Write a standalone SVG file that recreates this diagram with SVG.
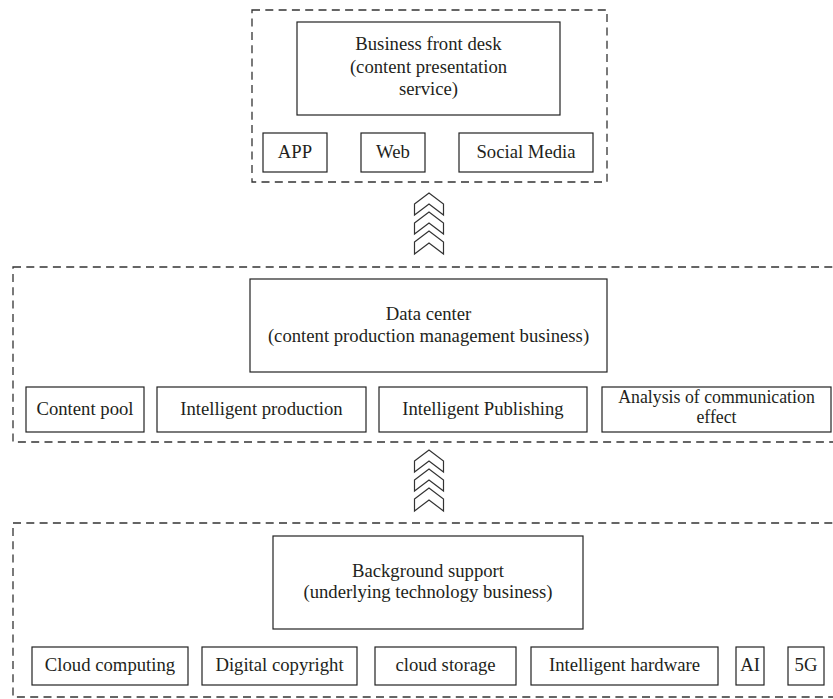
<svg xmlns="http://www.w3.org/2000/svg" width="833" height="699" viewBox="0 0 833 699">
<style>
.dash{fill:none;stroke:#333;stroke-width:1.3;stroke-dasharray:8 5.3}
.box{fill:#fff;stroke:#222;stroke-width:1.2}
.t{font-family:"Liberation Serif","Times New Roman",serif;font-size:18.7px;fill:#231f20;text-anchor:middle}
.s{font-size:17.8px}
.chev{fill:none;stroke:#333;stroke-width:1.2;stroke-linejoin:miter}
</style>
<rect width="833" height="699" fill="#fff"/>
<g id="layer-front">
<rect class="dash" x="252" y="10" width="355" height="172"/>
</g>
<g id="layer-data">
<rect class="dash" x="13" y="267" width="830" height="175"/>
</g>
<g id="layer-background">
<rect class="dash" x="13" y="523" width="830" height="174"/>
</g>
<g id="front-desk">
<rect class="box" x="297" y="22" width="263" height="93"/>
<text class="t" x="428.5" y="50">Business front desk</text>
<text class="t" x="428.5" y="73">(content presentation</text>
<text class="t" x="428.5" y="95">service)</text>
</g>
<g id="app"><rect class="box" x="263" y="133" width="64" height="39"/><text class="t" x="295" y="158">APP</text></g>
<g id="web"><rect class="box" x="361" y="133" width="64" height="39"/><text class="t" x="393" y="158">Web</text></g>
<g id="social"><rect class="box" x="459" y="133" width="134" height="39"/><text class="t" x="526" y="158">Social Media</text></g>
<g id="data-center">
<rect class="box" x="250" y="279" width="357" height="93"/>
<text class="t" x="428.5" y="320">Data center</text>
<text class="t" x="428.5" y="342">(content production management business)</text>
</g>
<g id="content-pool"><rect class="box" x="26" y="387" width="118" height="45"/><text class="t" x="85" y="415">Content pool</text></g>
<g id="intel-production"><rect class="box" x="157" y="387" width="209" height="45"/><text class="t" x="261.5" y="415">Intelligent production</text></g>
<g id="intel-publishing"><rect class="box" x="379" y="387" width="208" height="45"/><text class="t" x="483" y="415">Intelligent Publishing</text></g>
<g id="analysis"><rect class="box" x="602" y="387" width="229" height="45"/><text class="t s" x="716.5" y="403">Analysis of communication</text><text class="t s" x="716.5" y="423">effect</text></g>
<g id="background-support">
<rect class="box" x="273" y="536" width="310" height="93"/>
<text class="t" x="428" y="577">Background support</text>
<text class="t" x="428" y="598">(underlying technology business)</text>
</g>
<g id="cloud-computing"><rect class="box" x="32" y="647" width="156" height="38"/><text class="t" x="110" y="671">Cloud computing</text></g>
<g id="digital-copyright"><rect class="box" x="202" y="647" width="155" height="38"/><text class="t" x="279.5" y="671">Digital copyright</text></g>
<g id="cloud-storage"><rect class="box" x="375" y="647" width="141" height="38"/><text class="t" x="445.5" y="671">cloud storage</text></g>
<g id="intel-hardware"><rect class="box" x="531" y="647" width="187" height="38"/><text class="t" x="624.5" y="671">Intelligent hardware</text></g>
<g id="ai"><rect class="box" x="736" y="647" width="28" height="38"/><text class="t" x="750" y="671">AI</text></g>
<g id="5g"><rect class="box" x="788" y="647" width="36" height="38"/><text class="t" x="806" y="671">5G</text></g>
<g id="connectors">
<polygon class="chev" points="414.5,204 429,193 443.5,204 443.5,215 429,204 414.5,215"/>
<polygon class="chev" points="414.5,223 429,212 443.5,223 443.5,234 429,223 414.5,234"/>
<polygon class="chev" points="414.5,242 429,231 443.5,242 443.5,254 429,243 414.5,254"/>
<polygon class="chev" points="414.5,461 429,450 443.5,461 443.5,472 429,461 414.5,472"/>
<polygon class="chev" points="414.5,480 429,469 443.5,480 443.5,491 429,480 414.5,491"/>
<polygon class="chev" points="414.5,499 429,488 443.5,499 443.5,511 429,500 414.5,511"/>
</g>
</svg>
